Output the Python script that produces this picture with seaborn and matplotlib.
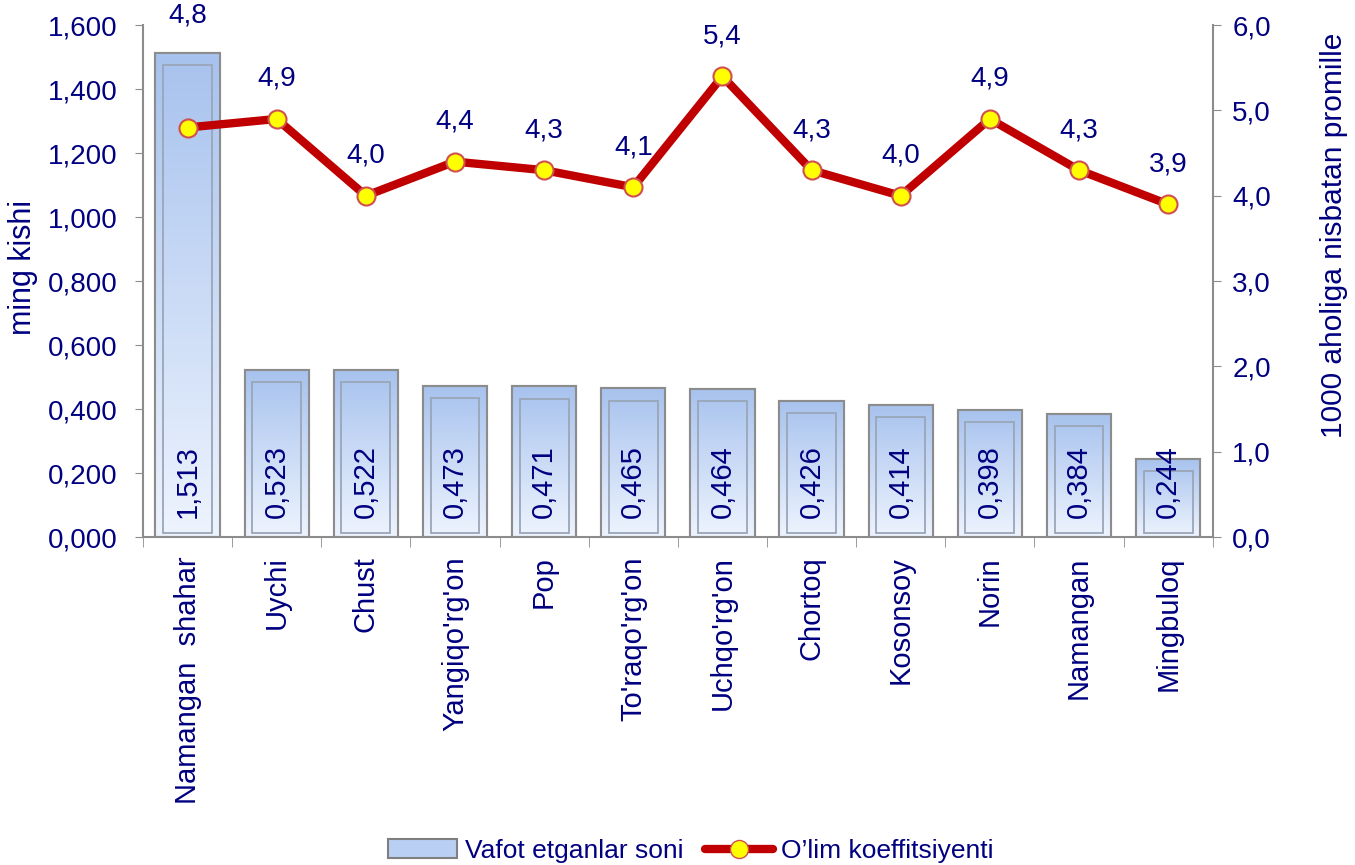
import numpy as np
import pandas as pd
import seaborn as sns
import matplotlib.pyplot as plt
from matplotlib.lines import Line2D
from matplotlib.patches import Rectangle
from matplotlib.colors import LinearSegmentedColormap

# Data
districts = ["Namangan  shahar", "Uychi", "Chust", "Yangiqo'rg'on", "Pop",
             "To'raqo'rg'on", "Uchqo'rg'on", "Chortoq", "Kosonsoy", "Norin",
             "Namangan", "Mingbuloq"]
deaths = [1.513, 0.523, 0.522, 0.473, 0.471, 0.465, 0.464, 0.426, 0.414,
          0.398, 0.384, 0.244]
rate = [4.8, 4.9, 4.0, 4.4, 4.3, 4.1, 5.4, 4.3, 4.0, 4.9, 4.3, 3.9]

navy = '#000080'
line_red = '#C00000'
grey = '#8C8C8C'

sns.set_style('white')
plt.rcParams['font.family'] = ['Liberation Sans', 'DejaVu Sans']

df = pd.DataFrame({'district': districts, 'deaths': deaths, 'rate': rate})

fig = plt.figure(figsize=(13.55, 8.65), dpi=100)
ax = fig.add_axes([0.1055, 0.379, 0.7895, 0.592])

sns.barplot(data=df, x='district', y='deaths', color='#C5D7F5', width=0.72,
            edgecolor=grey, linewidth=1.5, ax=ax, zorder=2)

# Gradient fill and inner frame on every bar
grad = np.linspace(0, 1, 256).reshape(-1, 1)
cmap = LinearSegmentedColormap.from_list('bar', ['#EEF4FE', '#A7C2EE'])
for p in list(ax.patches):
    x0, y0 = p.get_x(), p.get_y()
    w, h = p.get_width(), p.get_height()
    im = ax.imshow(grad, extent=[x0, x0 + w, y0, y0 + h], origin='lower',
                   cmap=cmap, aspect='auto', zorder=2.1)
    im.set_clip_path(p)
    ax.add_patch(Rectangle((x0 + w * 0.12, y0 + 0.012), w * 0.76, h - 0.05,
                           fill=False, edgecolor='#9AA6B8', linewidth=1.3,
                           zorder=2.2))
    ax.add_patch(Rectangle((x0, y0), w, h, fill=False, edgecolor=grey,
                           linewidth=1.5, zorder=2.3))

ax.set_xlim(-0.5, len(districts) - 0.5)
ax.set_ylim(0, 1.6)
yt = np.arange(0, 1.61, 0.2)
ax.set_yticks(yt)
ax.set_yticklabels([f"{v:.3f}".replace('.', ',') for v in yt])
ax.set_xlabel('')
ax.set_ylabel('ming kishi', color=navy, fontsize=22)
ax.yaxis.set_label_coords(-0.098, 0.527)
ax.tick_params(axis='x', rotation=90, labelsize=21, labelcolor=navy)
ax.set_xticks(np.arange(-0.5, len(districts), 1), minor=True)
ax.tick_params(axis='x', which='major', length=0, pad=14)
ax.tick_params(axis='x', which='minor', length=7, color=grey, bottom=True)
ax.tick_params(axis='y', labelsize=20, labelcolor=navy, length=6,
               color=grey, left=True, pad=12)
for s in ['top', 'right']:
    ax.spines[s].set_visible(False)
for s in ['left', 'bottom']:
    ax.spines[s].set_color(grey)
    ax.spines[s].set_linewidth(1.5)

# Bar value labels
for i, v in enumerate(deaths):
    ax.text(i, 0.06, f"{v:.3f}".replace('.', ','), rotation=90, ha='center',
            va='bottom', color=navy, fontsize=21, zorder=5)

# Right axis with the rate line
ax2 = ax.twinx()
sns.lineplot(x=np.arange(len(districts)), y=rate, ax=ax2, color=line_red,
             linewidth=6, marker='o', markersize=13,
             markerfacecolor='#FFFF00', markeredgecolor='#D05050',
             markeredgewidth=1.5, zorder=4)
ax2.set_ylim(0, 6)
rt = np.arange(0, 6.1, 1)
ax2.set_yticks(rt)
ax2.set_yticklabels([f"{v:.1f}".replace('.', ',') for v in rt])
ax2.tick_params(axis='y', labelsize=20, labelcolor=navy, length=6,
                color=grey, right=True, pad=8)
ax2.set_ylabel('1000 aholiga nisbatan promille', color=navy, fontsize=21.5)
ax2.yaxis.set_label_coords(1.1, 0.59)
for s in ['top', 'left', 'bottom']:
    ax2.spines[s].set_visible(False)
ax2.spines['right'].set_color(grey)
ax2.spines['right'].set_linewidth(1.5)

for i, v in enumerate(rate):
    off = 40 if i > 0 else 112
    ax2.annotate(f"{v:.1f}".replace('.', ','), (i, v), xytext=(0, off),
                 textcoords='offset pixels', ha='center', va='center',
                 color=navy, fontsize=20, zorder=6)

# Legend
handles = [Rectangle((0, 0), 1, 1, facecolor='#B9CFF3', edgecolor='#7F7F7F',
                     linewidth=1.5),
           Line2D([], [], color=line_red, linewidth=6, marker='o',
                  markersize=13, markerfacecolor='#FFFF00',
                  markeredgecolor='#D05050')]
fig.legend(handles, ['Vafot etganlar soni', 'O\u2019lim koeffitsiyenti'],
           loc='lower center', bbox_to_anchor=(0.51, -0.025), ncol=2,
           frameon=False, fontsize=19, labelcolor=navy, handlelength=2.6,
           columnspacing=0.8, handletextpad=0.3)

fig.savefig('out.png', dpi=100)
